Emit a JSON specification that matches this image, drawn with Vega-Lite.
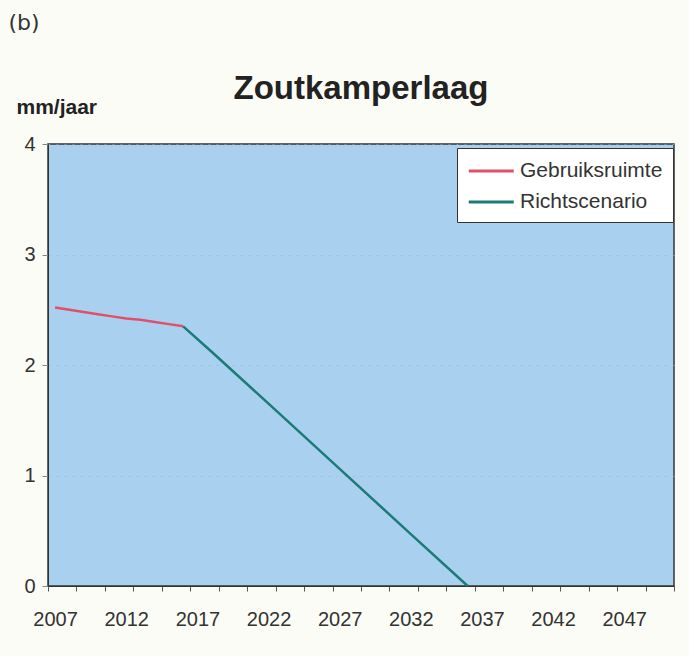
{
  "$schema": "https://vega.github.io/schema/vega-lite/v6.json",
  "background": "#fcfcf6",
  "autosize": {"type": "none"},
  "padding": {"left": 48, "top": 144, "right": 15, "bottom": 70},
  "width": 626,
  "height": 442,
  "title": {"text": "Zoutkamperlaag", "fontSize": 33, "fontWeight": "bold", "color": "#222222", "font": "Liberation Sans", "anchor": "middle", "frame": "group", "offset": -95},
  "config": {
    "font": "Liberation Sans",
    "view": {"fill": "#a9d1ef", "stroke": "#333333", "strokeWidth": 1.5}
  },
  "data": {
    "values": [
      {"year": 2007, "value": 2.52, "series": "Gebruiksruimte"},
      {"year": 2008, "value": 2.50, "series": "Gebruiksruimte"},
      {"year": 2009, "value": 2.48, "series": "Gebruiksruimte"},
      {"year": 2010, "value": 2.46, "series": "Gebruiksruimte"},
      {"year": 2011, "value": 2.44, "series": "Gebruiksruimte"},
      {"year": 2012, "value": 2.42, "series": "Gebruiksruimte"},
      {"year": 2013, "value": 2.41, "series": "Gebruiksruimte"},
      {"year": 2014, "value": 2.39, "series": "Gebruiksruimte"},
      {"year": 2015, "value": 2.37, "series": "Gebruiksruimte"},
      {"year": 2016, "value": 2.35, "series": "Gebruiksruimte"},
      {"year": 2016, "value": 2.35, "series": "Richtscenario"},
      {"year": 2018, "value": 2.12, "series": "Richtscenario"},
      {"year": 2022, "value": 1.65, "series": "Richtscenario"},
      {"year": 2027, "value": 1.06, "series": "Richtscenario"},
      {"year": 2032, "value": 0.47, "series": "Richtscenario"},
      {"year": 2036, "value": 0.0, "series": "Richtscenario"}
    ]
  },
  "mark": {"type": "line", "strokeWidth": 2.5},
  "encoding": {
    "x": {
      "field": "year", "type": "quantitative",
      "scale": {"domain": [2006.5, 2050.5], "nice": false, "zero": false},
      "axis": {
        "title": "(b)", "titleX": -40, "titleY": -557, "titleAlign": "left", "titleBaseline": "alphabetic",
        "titleFont": "DejaVu Sans", "titleFontSize": 22, "titleFontWeight": "normal", "titleColor": "#333333",
        "values": [2006.5,2008.5,2010.5,2012.5,2014.5,2016.5,2018.5,2020.5,2022.5,2024.5,2026.5,2028.5,2030.5,2032.5,2034.5,2036.5,2038.5,2040.5,2042.5,2044.5,2046.5,2048.5,2050.5,2007,2012,2017,2022,2027,2032,2037,2042,2047],
        "labelExpr": "datum.value % 1 == 0 ? format(datum.value, 'd') : ''",
        "labelFontSize": 20, "labelColor": "#333333", "labelPadding": 18, "labelFlush": false,
        "tickSize": 5, "tickColor": "#555555", "domainColor": "#333333",
        "tickOpacity": {"condition": {"test": "datum.value % 1 == 0", "value": 0}, "value": 1},
        "grid": false, "labelOverlap": false, "labelBound": false
      }
    },
    "y": {
      "field": "value", "type": "quantitative",
      "scale": {"domain": [0, 4], "nice": false},
      "axis": {
        "title": "mm/jaar", "titleAngle": 0, "titleAlign": "left", "titleBaseline": "alphabetic",
        "titleX": -32, "titleY": -31, "titleFontSize": 21, "titleFontWeight": "bold", "titleColor": "#222222",
        "values": [0, 1, 2, 3, 4], "labelFontSize": 20, "labelColor": "#333333", "labelPadding": 7,
        "tickSize": 6, "tickColor": "#888888", "domainColor": "#333333",
        "grid": true, "gridColor": "#8fb4d0", "gridDash": [2, 6], "gridOpacity": 0.6
      }
    },
    "color": {
      "field": "series", "type": "nominal",
      "scale": {"domain": ["Gebruiksruimte", "Richtscenario"], "range": ["#e0506a", "#1b7b78"]},
      "legend": {
        "title": null, "orient": "none", "legendX": 409, "legendY": 4,
        "fillColor": "#ffffff", "strokeColor": "#333333", "padding": 10,
        "symbolType": "M-1,0H3", "symbolSize": 506, "symbolStrokeWidth": 3,
        "labelFontSize": 21, "labelColor": "#333333", "rowPadding": 8, "labelOffset": 27
      }
    }
  }
}
